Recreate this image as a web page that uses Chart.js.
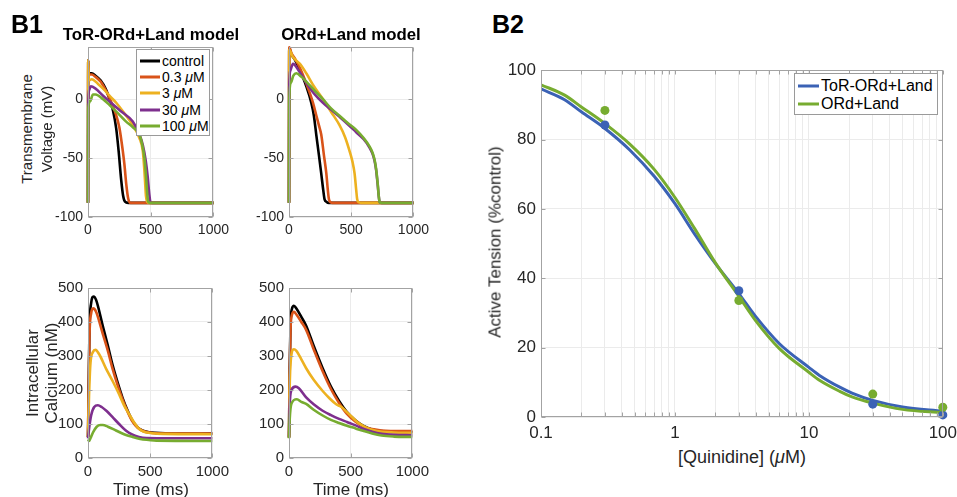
<!DOCTYPE html>
<html><head><meta charset="utf-8">
<script src="https://cdn.jsdelivr.net/npm/chart.js@4.4.1/dist/chart.umd.min.js"></script>
<style>
body{margin:0;width:957px;height:497px;background:#fff;position:relative;overflow:hidden;font-family:"Liberation Sans",Arial,Helvetica,sans-serif;color:#262626}
canvas{position:absolute}
.t{position:absolute;white-space:nowrap;line-height:1;transform:translate(-50%,-50%)}
.r{transform:translate(-50%,-50%) rotate(-90deg)}
.leg{position:absolute;background:#fff;border:1px solid #9a9a9a;z-index:5;box-sizing:border-box}
.row{position:absolute;white-space:nowrap;line-height:1;transform:translateY(-50%)}
.sw{position:absolute;height:3px;transform:translateY(-50%)}
</style>
</head><body>
<canvas id="cA" width="194" height="205" style="left:40px;top:34px"></canvas>
<canvas id="cB" width="193" height="205" style="left:241px;top:34px"></canvas>
<canvas id="cC" width="194" height="206" style="left:40px;top:274px"></canvas>
<canvas id="cD" width="193" height="206" style="left:241px;top:274px"></canvas>
<canvas id="cE" width="462" height="386" style="left:501px;top:55px"></canvas>

<div class="t" style="left:27px;top:24px;font-size:25px;font-weight:bold;color:#000">B1</div>
<div class="t" style="left:508px;top:24px;font-size:25px;font-weight:bold;color:#000">B2</div>
<div class="t" style="left:151px;top:35px;font-size:16.8px;font-weight:bold;color:#000">ToR-ORd+Land model</div>
<div class="t" style="left:351px;top:35px;font-size:16.8px;font-weight:bold;color:#000">ORd+Land model</div>
<div class="t r" style="left:26px;top:129px;font-size:15px">Transmembrane</div>
<div class="t r" style="left:46px;top:129px;font-size:15px">Voltage (mV)</div>
<div class="t r" style="left:32px;top:373px;font-size:17px">Intracellular</div>
<div class="t r" style="left:51px;top:373px;font-size:17px">Calcium (nM)</div>
<div class="t" style="left:151px;top:489px;font-size:17px">Time (ms)</div>
<div class="t" style="left:351px;top:489px;font-size:17px">Time (ms)</div>
<div class="t r" style="left:495px;top:242px;font-size:17px">Active Tension (%control)</div>
<div class="t" style="left:742px;top:457px;font-size:18px">[Quinidine] (<i>μ</i>M)</div>
<div id="legB1" class="leg" style="left:136px;top:49px;width:74px;height:87px"></div>
<div id="legB2" class="leg" style="left:794px;top:73px;width:144px;height:42px"></div>

<script>
// ---------- tick labels ----------
const timeTicks = [0, 500, 1000];
const voltTicks = [-100, -50, 0];
const caTicks = [0, 100, 200, 300, 400, 500];
const concTicks = [0.1,0.2,0.3,0.4,0.5,0.6,0.7,0.8,0.9,1,2,3,4,5,6,7,8,9,10,20,30,40,50,60,70,80,90,100];
const concLabels = [0.1, 1, 10, 100];
const tensionTicks = [0, 20, 40, 60, 80, 100];

// ---------- series ----------
const seriesNames = ['control', '0.3 μM', '3 μM', '30 μM', '100 μM'];
const seriesColors = ['#000000', '#D95319', '#EDB120', '#7E2F8E', '#77AC30'];

// ToR-ORd+Land voltage [time ms, mV]
const torV_control = [[0,-88],[2,33],[6,22],[30,22],[60,20],[100,16],[140,9],[172,0],[200,-10],[225,-25],[245,-45],[265,-69],[280,-82],[295,-87],[320,-88],[1000,-88]];
const torV_03 = [[0,-88],[2,33],[6,21],[30,21],[60,19],[100,15],[140,8],[180,-1],[220,-12],[250,-24],[270,-38],[290,-55],[305,-72],[320,-84],[340,-88],[1000,-88]];
const torV_3 = [[0,-88],[2,33],[6,16],[30,17],[80,13],[130,8],[180,2],[225,-3],[290,-12],[357,-22],[410,-33],[437,-44],[448,-58],[455,-70],[462,-82],[472,-87],[490,-88],[1000,-88]];
const torV_30 = [[0,-88],[2,-5],[10,8],[22,11],[60,9],[120,3],[172,-2],[260,-10],[357,-19],[410,-30],[437,-39],[460,-52],[476,-66],[488,-80],[497,-87],[510,-88],[1000,-88]];
const torV_100 = [[0,-88],[2,-8],[15,-2],[40,4],[60,4],[120,0],[172,-5],[240,-12],[304,-19],[360,-24],[410,-30],[435,-40],[450,-50],[463,-66],[472,-80],[480,-87],[495,-88],[1000,-88]];

// ORd+Land voltage
const ordV_control = [[0,-88],[2,43],[20,38],[50,33],[86,25],[139,11],[179,-3],[200,-14],[219,-30],[240,-47],[259,-63],[275,-77],[286,-85],[300,-87],[320,-88],[1000,-88]];
const ordV_03 = [[0,-88],[2,44],[20,39],[50,34],[90,26],[140,13],[193,-3],[220,-14],[240,-22],[259,-30],[280,-47],[300,-63],[312,-77],[321,-85],[335,-87.5],[350,-88],[1000,-88]];
const ordV_3 = [[0,-88],[2,42],[30,36],[88,30],[139,22],[200,11],[273,0],[340,-11],[406,-22],[450,-32],[487,-44],[510,-53],[527,-63],[540,-77],[548,-85],[560,-87.5],[580,-88],[1000,-88]];
const ordV_30 = [[0,-88],[2,10],[10,24],[32,30],[80,24],[139,14],[200,5],[273,-3],[340,-9],[406,-15],[470,-21],[540,-28],[600,-34],[647,-41],[670,-46],[687,-52],[700,-60],[714,-74],[722,-83],[730,-87.5],[745,-88],[1000,-88]];
const ordV_100 = [[0,-88],[2,0],[15,14],[35,20],[59,22],[100,19],[139,15],[200,8],[273,0],[340,-8],[406,-14],[470,-20],[540,-26],[600,-33],[647,-40],[670,-45],[687,-51],[700,-59],[714,-73],[722,-83],[730,-87.5],[745,-88],[1000,-88]];

// ToR-ORd+Land calcium [time ms, nM]
const torCa_control = [[0,62],[5,200],[12,380],[25,455],[45,475],[65,465],[119,388],[160,330],[198,273],[240,220],[278,177],[320,138],[357,110],[400,90],[437,81],[490,76],[542,74],[700,72],[1000,72]];
const torCa_03 = [[0,62],[5,190],[12,360],[25,425],[42,440],[65,430],[119,365],[160,315],[198,262],[240,212],[278,172],[320,135],[357,108],[400,89],[437,80],[490,75],[542,73],[1000,72]];
const torCa_3 = [[0,62],[8,180],[20,280],[40,312],[60,318],[90,305],[145,263],[200,225],[251,187],[290,155],[331,129],[370,105],[410,86],[450,77],[516,73],[600,71],[1000,70]];
const torCa_30 = [[0,58],[10,90],[25,125],[50,150],[79,155],[110,150],[150,138],[198,120],[250,100],[304,81],[350,70],[410,62],[470,59],[1000,58]];
const torCa_100 = [[0,55],[8,50],[20,58],[40,75],[70,92],[100,97],[119,97],[160,92],[225,81],[290,70],[357,62],[420,56],[489,53],[550,51],[1000,50]];

// ORd+Land calcium
const ordCa_control = [[0,60],[5,250],[12,390],[25,440],[40,448],[60,440],[100,415],[139,389],[200,330],[273,264],[340,210],[406,168],[470,135],[540,110],[600,95],[674,84],[750,79],[807,77],[1000,76]];
const ordCa_03 = [[0,60],[5,240],[12,375],[25,422],[40,430],[60,422],[100,400],[139,377],[200,320],[273,255],[340,203],[406,162],[470,130],[540,107],[600,93],[674,85],[750,81],[1000,79]];
const ordCa_3 = [[0,60],[5,200],[15,290],[40,320],[60,315],[100,290],[139,264],[200,230],[273,197],[330,175],[380,159],[410,153],[433,148],[470,135],[513,120],[560,104],[620,91],[680,82],[754,77],[850,75],[1000,74]];
const ordCa_30 = [[0,60],[5,150],[20,200],[53,210],[80,205],[139,178],[200,158],[273,139],[340,126],[406,115],[470,106],[540,96],[600,86],[674,77],[750,71],[850,68],[1000,67]];
const ordCa_100 = [[0,58],[5,110],[20,160],[64,173],[100,165],[139,159],[200,142],[273,125],[340,112],[406,103],[470,95],[540,87],[600,80],[674,72],[750,66],[850,63],[1000,62]];

// B2: dose-response
const b2Names = ['ToR-ORd+Land', 'ORd+Land'];
const b2Colors = ['#3B62B5', '#77AC30'];
const fitConc = [0.1, 0.15, 0.2, 0.3, 0.46, 0.7, 1, 1.4, 2, 3, 4, 6, 10, 12, 17, 21, 30, 50, 100];
const fitTor = [94.6, 91.5, 88.0, 83.2, 77.0, 69.4, 61.5, 52.8, 44.3, 35.6, 29.0, 21.2, 14.3, 12.0, 8.6, 6.9, 4.8, 2.9, 1.7];
const fitOrd = [95.8, 92.8, 89.4, 84.6, 78.7, 71.4, 63.3, 54.4, 44.5, 34.8, 27.8, 19.8, 12.9, 10.6, 7.4, 5.8, 4.0, 2.2, 1.2];
const doseConc = [0.3, 3, 30, 100];
const doseTor = [84.2, 36.4, 3.7, 0.6];
const doseOrd = [88.4, 33.6, 6.6, 2.8];

// ---------- helpers ----------
const FONT = '"Liberation Sans", Arial, Helvetica, sans-serif';
const GRID = '#ebebeb';
const BOX = '#a3a3a3';
const TXT = '#262626';

const boxPlugin = {
  id: 'box',
  afterDatasetsDraw(chart, args, opts) {
    const {ctx, chartArea: a} = chart;
    const xs = chart.scales.x, ys = chart.scales.y;
    const L = opts.len || 4;
    ctx.save();
    ctx.strokeStyle = BOX; ctx.lineWidth = 1;
    const l = Math.round(a.left) + 0.5, r = Math.round(a.right) - 0.5, t = Math.round(a.top) + 0.5, b = Math.round(a.bottom) - 0.5;
    ctx.strokeRect(l, t, r - l, b - t);
    ctx.beginPath();
    xs.ticks.forEach(tk => {
      const p = Math.round(xs.getPixelForValue(tk.value)) + 0.5;
      ctx.moveTo(p, b); ctx.lineTo(p, b - L);
      ctx.moveTo(p, t); ctx.lineTo(p, t + L);
    });
    ys.ticks.forEach(tk => {
      const p = Math.round(ys.getPixelForValue(tk.value)) + 0.5;
      ctx.moveTo(l, p); ctx.lineTo(l + L, p);
      ctx.moveTo(r, p); ctx.lineTo(r - L, p);
    });
    ctx.stroke();
    ctx.restore();
  }
};

function toXY(arr) { return arr.map(p => ({x: p[0], y: p[1]})); }
function setTicks(vals) { return axis => { axis.ticks = vals.map(v => ({value: v})); }; }
const plain = v => String(v);

function makeB1(id, series, yMin, yMax, yTicks, fs, yW, xH) {
  new Chart(document.getElementById(id), {
    type: 'line',
    data: {
      datasets: series.map((s, i) => ({
        label: seriesNames[i], data: toXY(s), borderColor: seriesColors[i],
        borderWidth: 2.6, pointRadius: 0, cubicInterpolationMode: 'monotone', order: 5 - i, clip: 4
      }))
    },
    options: {
      responsive: false, animation: false, devicePixelRatio: 1,
      layout: {padding: {left: 0, right: 20, top: 10, bottom: 0}},
      plugins: {legend: {display: false}, tooltip: {enabled: false}, box: {len: 4}},
      scales: {
        x: {type: 'linear', min: 0, max: 1000, afterBuildTicks: setTicks(timeTicks),
            afterFit: s => { s.height = xH; },
            grid: {color: GRID, drawTicks: false}, border: {display: false},
            ticks: {color: TXT, font: {family: FONT, size: fs}, padding: 5, maxRotation: 0, callback: plain}},
        y: {type: 'linear', min: yMin, max: yMax, afterBuildTicks: setTicks(yTicks),
            afterFit: s => { s.width = yW; },
            grid: {color: GRID, drawTicks: false}, border: {display: false},
            ticks: {color: TXT, font: {family: FONT, size: fs}, padding: 5, callback: plain}}
      }
    },
    plugins: [boxPlugin]
  });
}

makeB1('cA', [torV_control, torV_03, torV_3, torV_30, torV_100], -100, 44, voltTicks, 14, 48, 22);
makeB1('cB', [ordV_control, ordV_03, ordV_3, ordV_30, ordV_100], -100, 44, voltTicks, 14, 48, 22);
makeB1('cC', [torCa_control, torCa_03, torCa_3, torCa_30, torCa_100], 0, 500, caTicks, 15, 48, 22);
makeB1('cD', [ordCa_control, ordCa_03, ordCa_3, ordCa_30, ordCa_100], 0, 500, caTicks, 15, 48, 22);

// B2
function pairs(xs, ys) { return xs.map((x, i) => ({x: x, y: ys[i]})); }
new Chart(document.getElementById('cE'), {
  type: 'line',
  data: {
    datasets: [
      {label: b2Names[0], data: pairs(fitConc, fitTor), borderColor: b2Colors[0], borderWidth: 3, pointRadius: 0, cubicInterpolationMode: 'monotone', order: 4},
      {label: b2Names[1], data: pairs(fitConc, fitOrd), borderColor: b2Colors[1], borderWidth: 3, pointRadius: 0, cubicInterpolationMode: 'monotone', order: 3},
      {label: b2Names[0] + ' data', data: pairs(doseConc, doseTor), showLine: false, pointRadius: 4.5, pointBackgroundColor: b2Colors[0], pointBorderWidth: 0, borderColor: b2Colors[0], order: 2, clip: 8},
      {label: b2Names[1] + ' data', data: pairs(doseConc, doseOrd), showLine: false, pointRadius: 4.5, pointBackgroundColor: b2Colors[1], pointBorderWidth: 0, borderColor: b2Colors[1], order: 1, clip: 8}
    ]
  },
  options: {
    responsive: false, animation: false, devicePixelRatio: 1,
    layout: {padding: {left: 0, right: 20, top: 12, bottom: 0}},
    plugins: {legend: {display: false}, tooltip: {enabled: false}, box: {len: 4}},
    scales: {
      x: {type: 'logarithmic', min: 0.1, max: 100, afterBuildTicks: setTicks(concTicks),
          afterFit: s => { s.height = 24; },
          grid: {color: GRID, drawTicks: false}, border: {display: false},
          ticks: {color: TXT, font: {family: FONT, size: 17}, padding: 6, autoSkip: false, maxRotation: 0,
                  callback: v => concLabels.includes(v) ? String(v) : ''}},
      y: {type: 'linear', min: 0, max: 100, afterBuildTicks: setTicks(tensionTicks),
          afterFit: s => { s.width = 40; },
          grid: {color: GRID, drawTicks: false}, border: {display: false},
          ticks: {color: TXT, font: {family: FONT, size: 17}, padding: 5, callback: plain}}
    }
  },
  plugins: [boxPlugin]
});

// ---------- legends (HTML text) ----------
function fmt(name) { return name.replace('μ', '<i>μ</i>'); }
const legB1 = document.getElementById('legB1');
const b1RowY = [11, 27, 43, 60, 76];
seriesNames.forEach((n, i) => {
  legB1.insertAdjacentHTML('beforeend',
    `<div class="sw" style="left:3px;width:20px;top:${b1RowY[i]}px;background:${seriesColors[i]}"></div>` +
    `<div class="row" style="left:25px;top:${b1RowY[i]}px;font-size:14px;color:#000">${fmt(n)}</div>`);
});
const legB2 = document.getElementById('legB2');
const b2RowY = [12, 30];
b2Names.forEach((n, i) => {
  legB2.insertAdjacentHTML('beforeend',
    `<div class="sw" style="left:3px;width:21px;top:${b2RowY[i]}px;background:${b2Colors[i]}"></div>` +
    `<div class="row" style="left:26px;top:${b2RowY[i]}px;font-size:16px;color:#000">${n}</div>`);
});
</script>
</body></html>
